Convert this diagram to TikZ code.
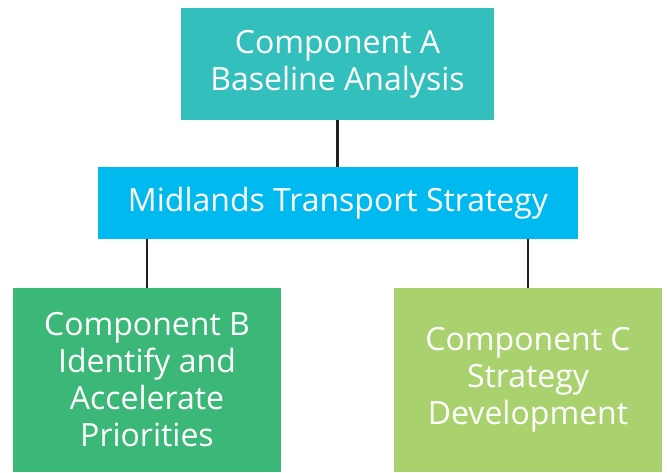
\documentclass[tikz,border=0pt]{standalone}
\usepackage{fontspec}
\setmainfont{Open Sans}
\definecolor{cA}{HTML}{33BFBC}
\definecolor{cM}{HTML}{00B9EE}
\definecolor{cB}{HTML}{3BB878}
\definecolor{cC}{HTML}{A9D26E}
\definecolor{lk}{HTML}{231F20}
\begin{document}
\begin{tikzpicture}[x=1pt,y=-1pt,
  box/.style={inner sep=0pt, outer sep=0pt, text=white, align=center,
    font=\fontsize{32}{37}\selectfont},
  link/.style={draw=lk, line width=2.2pt}]
\useasboundingbox (0,0) rectangle (667,472);
\node[box, fill=cA, minimum width=313pt, minimum height=112pt] (a) at (337.5,64) {Component A\\Baseline Analysis};
\node[box, fill=cM, minimum width=480pt, minimum height=72pt] (m) at (338,203) {Midlands Transport Strategy};
\node[box, fill=cB, minimum width=268pt, minimum height=184pt] (b) at (147,380) {Component B\\Identify and\\Accelerate\\Priorities};
\node[box, fill=cC, minimum width=268pt, minimum height=184pt] (c) at (528,380) {Component C\\Strategy\\Development};
\draw[link] (a.south) -- (a.south |- m.north);
\draw[link] (m.south -| b.north) -- (b.north);
\draw[link] (m.south -| c.north) -- (c.north);
\end{tikzpicture}
\end{document}
